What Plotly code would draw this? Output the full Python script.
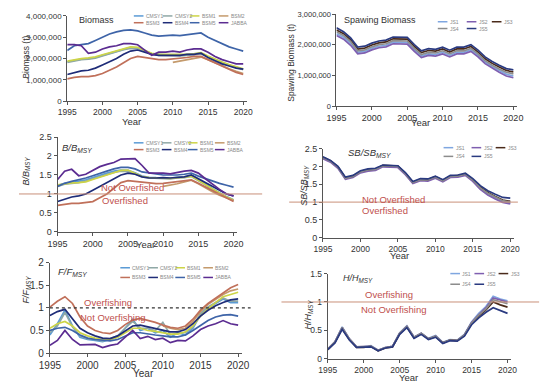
import plotly.graph_objects as go

# The page body has an 8px default margin, so the figure is drawn 8px in and
# sized so the whole page fits a 550x390 window.
SCREEN_W, SCREEN_H = 550, 390
OFF = 8
W, H = SCREEN_W - OFF, SCREEN_H - OFF

years = [1995, 1996, 1997, 1998, 1999, 2000, 2001, 2002, 2003, 2004, 2005, 2006, 2007,
         2008, 2009, 2010, 2011, 2012, 2013, 2014, 2015, 2016, 2017, 2018, 2019, 2020]
tick_years = [1995, 2000, 2005, 2010, 2015, 2020]

names8 = ["CMSY1", "CMSY2", "BSM1", "BSM2", "BSM3", "BSM4", "BSM5", "JABBA"]
colors8 = ["#5B9BD5", "#8FA8A6", "#CDD447", "#C49A6C", "#C0705A", "#1F2C78", "#3E64A8", "#5B2C91"]
names5 = ["JS1", "JS2", "JS3", "JS4", "JS5"]
colors5 = ["#7FA6E0", "#7F5FB0", "#4A2A1A", "#8C8C8C", "#2A3A80"]

N = None
# Biomass (t)
bio_cmsy1 = [1.85e6, 1.92e6, 1.97e6, 2.0e6, 2.05e6, 2.15e6, 2.25e6, 2.35e6, 2.45e6, 2.52e6, 2.5e6, 2.38e6, 2.22e6, 2.18e6, 2.17e6, 2.17e6, 2.15e6, 2.18e6, 2.2e6, 2.25e6, 2.1e6, 1.95e6, 1.82e6, 1.7e6, 1.6e6, 1.5e6]
bio_cmsy2 = [1.82e6, 1.9e6, 1.95e6, 1.97e6, 2.02e6, 2.12e6, 2.22e6, 2.32e6, 2.42e6, 2.48e6, 2.47e6, 2.35e6, 2.2e6, 2.15e6, 2.14e6, 2.14e6, 2.12e6, 2.15e6, 2.17e6, 2.22e6, 2.07e6, 1.92e6, 1.8e6, 1.68e6, 1.58e6, 1.48e6]
bio_bsm1 = [1.88e6, 1.95e6, 2.0e6, 2.03e6, 2.08e6, 2.18e6, 2.28e6, 2.38e6, 2.48e6, 2.55e6, 2.53e6, 2.4e6, 2.25e6, 2.2e6, 2.2e6, 2.2e6, 2.18e6, 2.2e6, 2.22e6, 2.28e6, 2.12e6, 1.97e6, 1.84e6, 1.72e6, 1.62e6, 1.52e6]
bio_bsm2 = [N, N, N, N, N, N, N, N, N, N, N, N, N, N, N, 1.82e6, 1.88e6, 1.95e6, 2.02e6, 2.07e6, 1.95e6, 1.8e6, 1.65e6, 1.52e6, 1.4e6, 1.3e6]
bio_bsm3 = [1.05e6, 1.12e6, 1.15e6, 1.15e6, 1.2e6, 1.3e6, 1.45e6, 1.6e6, 1.8e6, 2.0e6, 2.1e6, 2.05e6, 2.0e6, 1.95e6, 1.95e6, 1.98e6, 2.0e6, 2.05e6, 2.1e6, 2.1e6, 1.95e6, 1.8e6, 1.65e6, 1.5e6, 1.35e6, 1.25e6]
bio_bsm4 = [1.25e6, 1.35e6, 1.42e6, 1.45e6, 1.55e6, 1.7e6, 1.85e6, 2.0e6, 2.2e6, 2.35e6, 2.4e6, 2.3e6, 2.2e6, 2.15e6, 2.15e6, 2.15e6, 2.15e6, 2.2e6, 2.2e6, 2.25e6, 2.05e6, 1.9e6, 1.75e6, 1.65e6, 1.55e6, 1.5e6]
bio_bsm5 = [2.38e6, 2.6e6, 2.65e6, 2.7e6, 2.85e6, 3.0e6, 3.15e6, 3.25e6, 3.32e6, 3.35e6, 3.3e6, 3.2e6, 3.1e6, 3.05e6, 3.08e6, 3.1e6, 3.08e6, 3.12e6, 3.15e6, 3.2e6, 3.0e6, 2.85e6, 2.7e6, 2.55e6, 2.45e6, 2.35e6]
bio_jabba = [2.65e6, 2.65e6, 2.6e6, 2.25e6, 2.3e6, 2.45e6, 2.55e6, 2.6e6, 2.7e6, 2.7e6, 2.65e6, 2.4e6, 2.15e6, 2.3e6, 2.3e6, 2.35e6, 2.3e6, 2.4e6, 2.45e6, 2.45e6, 2.3e6, 2.1e6, 1.95e6, 1.85e6, 1.75e6, 1.75e6]
biomass = [bio_cmsy1, bio_cmsy2, bio_bsm1, bio_bsm2, bio_bsm3, bio_bsm4, bio_bsm5, bio_jabba]

# B/BMSY
bb_cmsy1 = [1.22, 1.28, 1.3, 1.33, 1.37, 1.43, 1.5, 1.55, 1.6, 1.63, 1.62, 1.56, 1.47, 1.44, 1.43, 1.43, 1.42, 1.44, 1.45, 1.48, 1.38, 1.26, 1.14, 1.03, 0.93, 0.85]
bb_cmsy2 = [1.2, 1.26, 1.28, 1.3, 1.34, 1.4, 1.47, 1.52, 1.57, 1.6, 1.59, 1.53, 1.45, 1.42, 1.41, 1.41, 1.4, 1.42, 1.43, 1.46, 1.36, 1.24, 1.12, 1.01, 0.91, 0.83]
bb_bsm1 = [1.24, 1.27, 1.29, 1.3, 1.32, 1.38, 1.45, 1.5, 1.56, 1.62, 1.63, 1.55, 1.46, 1.43, 1.42, 1.42, 1.41, 1.43, 1.44, 1.47, 1.37, 1.25, 1.13, 1.02, 0.92, 0.84]
bb_bsm2 = [N, N, N, N, N, N, N, N, N, N, N, N, N, N, N, 1.2, 1.23, 1.27, 1.32, 1.36, 1.27, 1.16, 1.06, 0.97, 0.9, 0.83]
bb_bsm3 = [0.7, 0.72, 0.75, 0.75, 0.77, 0.8, 0.9, 1.0, 1.15, 1.3, 1.35, 1.33, 1.3, 1.28, 1.27, 1.28, 1.3, 1.32, 1.35, 1.37, 1.28, 1.18, 1.08, 0.98, 0.88, 0.8]
bb_bsm4 = [0.8, 0.87, 0.92, 0.95, 1.0, 1.1, 1.2, 1.3, 1.4, 1.5, 1.55, 1.52, 1.45, 1.42, 1.42, 1.43, 1.42, 1.44, 1.45, 1.5, 1.4, 1.28, 1.18, 1.08, 1.0, 0.95]
bb_bsm5 = [1.2, 1.28, 1.33, 1.37, 1.42, 1.48, 1.55, 1.6, 1.66, 1.7, 1.7, 1.66, 1.58, 1.55, 1.53, 1.5, 1.5, 1.5, 1.52, 1.55, 1.47, 1.4, 1.33, 1.28, 1.23, 1.18]
bb_jabba = [1.38, 1.6, 1.65, 1.48, 1.52, 1.62, 1.72, 1.78, 1.83, 1.92, 1.93, 1.93, 1.75, 1.55, 1.55, 1.55, 1.53, 1.57, 1.6, 1.62, 1.55, 1.4, 1.25, 1.12, 1.0, 0.95]
bbmsy = [bb_cmsy1, bb_cmsy2, bb_bsm1, bb_bsm2, bb_bsm3, bb_bsm4, bb_bsm5, bb_jabba]

# F/FMSY
ff_cmsy1 = [0.4, 0.65, 0.95, 0.6, 0.35, 0.3, 0.28, 0.25, 0.3, 0.35, 0.55, 0.75, 0.5, 0.55, 0.45, 0.5, 0.35, 0.45, 0.4, 0.55, 0.85, 1.0, 1.1, 1.2, 1.12, 1.12]
ff_cmsy2 = [0.45, 0.6, 0.9, 0.58, 0.38, 0.32, 0.3, 0.27, 0.32, 0.38, 0.55, 0.7, 0.55, 0.55, 0.5, 0.68, 0.4, 0.45, 0.45, 0.58, 0.88, 1.02, 1.12, 1.22, 1.15, 1.15]
ff_bsm1 = [0.55, 0.65, 0.7, 0.6, 0.45, 0.38, 0.33, 0.3, 0.3, 0.35, 0.45, 0.55, 0.55, 0.5, 0.48, 0.45, 0.42, 0.42, 0.47, 0.6, 0.82, 0.98, 1.12, 1.25, 1.3, 1.35]
ff_bsm2 = [N, N, N, N, N, N, N, N, N, N, N, N, N, N, N, 0.6, 0.55, 0.52, 0.55, 0.7, 0.92, 1.08, 1.2, 1.3, 1.38, 1.42]
ff_bsm3 = [1.02, 1.15, 1.25, 1.1, 0.8, 0.6, 0.5, 0.45, 0.43, 0.5, 0.63, 0.73, 0.77, 0.73, 0.68, 0.62, 0.57, 0.55, 0.6, 0.75, 0.95, 1.1, 1.22, 1.33, 1.45, 1.52]
ff_bsm4 = [0.83, 0.92, 0.97, 0.75, 0.55, 0.45, 0.38, 0.33, 0.32, 0.38, 0.5, 0.6, 0.62, 0.58, 0.55, 0.5, 0.47, 0.47, 0.52, 0.65, 0.82, 0.95, 1.05, 1.12, 1.18, 1.2]
ff_bsm5 = [0.5, 0.55, 0.57, 0.5, 0.4, 0.33, 0.3, 0.28, 0.27, 0.3, 0.38, 0.45, 0.45, 0.42, 0.4, 0.38, 0.36, 0.36, 0.4, 0.5, 0.62, 0.72, 0.8, 0.84, 0.85, 0.82]
ff_jabba = [0.17, 0.28, 0.5, 0.3, 0.18, 0.18, 0.19, 0.12, 0.17, 0.2, 0.35, 0.5, 0.32, 0.37, 0.3, 0.33, 0.23, 0.28, 0.27, 0.38, 0.52, 0.6, 0.65, 0.72, 0.65, 0.62]
ffmsy = [ff_cmsy1, ff_cmsy2, ff_bsm1, ff_bsm2, ff_bsm3, ff_bsm4, ff_bsm5, ff_jabba]

# Spawning biomass (t)
sb_js1 = [2.36e6, 2.24e6, 2.04e6, 1.75e6, 1.78e6, 1.88e6, 1.95e6, 1.98e6, 2.08e6, 2.08e6, 2.07e6, 1.83e6, 1.63e6, 1.7e6, 1.68e6, 1.75e6, 1.65e6, 1.75e6, 1.75e6, 1.83e6, 1.65e6, 1.43e6, 1.28e6, 1.16e6, 1.04e6, 0.98e6]
sb_js2 = [2.3e6, 2.18e6, 1.98e6, 1.7e6, 1.73e6, 1.83e6, 1.9e6, 1.93e6, 2.03e6, 2.03e6, 2.02e6, 1.78e6, 1.58e6, 1.65e6, 1.63e6, 1.7e6, 1.6e6, 1.7e6, 1.7e6, 1.78e6, 1.6e6, 1.38e6, 1.23e6, 1.1e6, 0.98e6, 0.92e6]
sb_js3 = [2.48e6, 2.36e6, 2.16e6, 1.86e6, 1.89e6, 1.99e6, 2.06e6, 2.09e6, 2.19e6, 2.19e6, 2.18e6, 1.94e6, 1.74e6, 1.81e6, 1.79e6, 1.86e6, 1.76e6, 1.86e6, 1.86e6, 1.94e6, 1.76e6, 1.54e6, 1.39e6, 1.27e6, 1.16e6, 1.11e6]
sb_js4 = [2.42e6, 2.3e6, 2.1e6, 1.8e6, 1.83e6, 1.93e6, 2.0e6, 2.03e6, 2.13e6, 2.13e6, 2.12e6, 1.88e6, 1.68e6, 1.75e6, 1.73e6, 1.8e6, 1.7e6, 1.8e6, 1.8e6, 1.88e6, 1.7e6, 1.48e6, 1.33e6, 1.21e6, 1.1e6, 1.05e6]
sb_js5 = [2.55e6, 2.42e6, 2.22e6, 1.92e6, 1.95e6, 2.05e6, 2.12e6, 2.15e6, 2.25e6, 2.25e6, 2.24e6, 2.0e6, 1.8e6, 1.87e6, 1.85e6, 1.92e6, 1.82e6, 1.92e6, 1.92e6, 2.0e6, 1.82e6, 1.6e6, 1.45e6, 1.33e6, 1.22e6, 1.18e6]
spawning = [sb_js1, sb_js2, sb_js3, sb_js4, sb_js5]

# SB/SBMSY
ss_js1 = [2.24, 2.14, 1.97, 1.66, 1.71, 1.84, 1.89, 1.91, 2.01, 1.99, 1.99, 1.79, 1.54, 1.62, 1.61, 1.69, 1.59, 1.71, 1.72, 1.77, 1.6, 1.38, 1.22, 1.11, 1.01, 0.97]
ss_js2 = [2.22, 2.12, 1.95, 1.64, 1.69, 1.82, 1.87, 1.89, 1.99, 1.97, 1.97, 1.77, 1.52, 1.6, 1.59, 1.67, 1.57, 1.69, 1.7, 1.75, 1.58, 1.36, 1.2, 1.09, 0.99, 0.95]
ss_js3 = [2.26, 2.16, 1.99, 1.68, 1.73, 1.86, 1.91, 1.93, 2.03, 2.01, 2.01, 1.81, 1.56, 1.64, 1.63, 1.71, 1.61, 1.73, 1.74, 1.79, 1.63, 1.42, 1.27, 1.16, 1.06, 1.02]
ss_js4 = [2.25, 2.15, 1.98, 1.67, 1.72, 1.85, 1.9, 1.92, 2.02, 2.0, 2.0, 1.8, 1.55, 1.63, 1.62, 1.7, 1.6, 1.72, 1.73, 1.78, 1.62, 1.4, 1.25, 1.14, 1.04, 1.0]
ss_js5 = [2.27, 2.17, 2.0, 1.7, 1.75, 1.88, 1.93, 1.95, 2.04, 2.03, 2.02, 1.83, 1.58, 1.66, 1.65, 1.73, 1.63, 1.75, 1.76, 1.81, 1.66, 1.46, 1.32, 1.22, 1.13, 1.11]
sbmsy = [ss_js1, ss_js2, ss_js3, ss_js4, ss_js5]

# H/HMSY
hh_js1 = [0.17, 0.3, 0.56, 0.35, 0.21, 0.21, 0.23, 0.15, 0.2, 0.22, 0.46, 0.58, 0.38, 0.45, 0.36, 0.41, 0.29, 0.34, 0.33, 0.43, 0.65, 0.8, 0.92, 1.1, 1.05, 1.02]
hh_js2 = [0.17, 0.3, 0.55, 0.35, 0.21, 0.21, 0.22, 0.15, 0.2, 0.22, 0.45, 0.57, 0.38, 0.45, 0.35, 0.4, 0.28, 0.33, 0.32, 0.42, 0.64, 0.78, 0.9, 1.07, 1.03, 1.0]
hh_js3 = [0.16, 0.29, 0.53, 0.34, 0.2, 0.2, 0.22, 0.14, 0.19, 0.21, 0.44, 0.56, 0.37, 0.44, 0.35, 0.39, 0.28, 0.33, 0.32, 0.41, 0.62, 0.75, 0.86, 1.0, 0.95, 0.91]
hh_js4 = [0.17, 0.3, 0.55, 0.35, 0.21, 0.21, 0.22, 0.15, 0.2, 0.22, 0.45, 0.57, 0.38, 0.45, 0.35, 0.4, 0.28, 0.33, 0.32, 0.42, 0.63, 0.77, 0.88, 1.04, 1.0, 0.97]
hh_js5 = [0.16, 0.28, 0.52, 0.33, 0.2, 0.2, 0.21, 0.14, 0.19, 0.21, 0.43, 0.55, 0.36, 0.43, 0.34, 0.38, 0.27, 0.32, 0.31, 0.4, 0.6, 0.72, 0.82, 0.9, 0.85, 0.8]
hhmsy = [hh_js1, hh_js2, hh_js3, hh_js4, hh_js5]

FONT = "Liberation Sans, Arial, sans-serif"
RED = "#C0504D"
REFC = "#C9907A"
AX = "#555555"
TXT = "#333333"


def px(x):
    return min(max((x - OFF) / W, 0.0), 1.0)


def py(y):
    return min(max(1 - (y - OFF) / H, 0.0), 1.0)


# panel geometry in screen pixels: left, right, top, bottom
panels = [
    dict(series=biomass, names=names8, colors=colors8, l=58, r=244, t=10, b=98, yr=[0, 4e6], dt=1e6, fmt=",d", xf=8.5, yf=8),
    dict(series=spawning, names=names5, colors=colors5, l=337, r=524, t=8, b=103, yr=[0, 3e6], dt=1e6, fmt=",d", xf=9, yf=7.5),
    dict(series=bbmsy, names=names8, colors=colors8, l=48, r=234, t=135, b=233, yr=[0, 2.5], dt=0.5, fmt="", xf=9, yf=9),
    dict(series=sbmsy, names=names5, colors=colors5, l=323, r=521, t=147, b=239, yr=[0, 2.5], dt=0.5, fmt="", xf=8.5, yf=9),
    dict(series=ffmsy, names=names8, colors=colors8, l=40, r=239, t=265, b=358, yr=[0, 2], dt=0.5, fmt="", xf=10, yf=10),
    dict(series=hhmsy, names=names5, colors=colors5, l=328, r=518, t=276, b=364, yr=[0, 1.5], dt=0.5, fmt="", xf=8.5, yf=8.5),
]

fig = go.Figure()
layout = dict(width=W, height=H, margin=dict(l=0, r=0, t=0, b=0),
              paper_bgcolor="white", plot_bgcolor="white", showlegend=False,
              font=dict(family=FONT, size=10, color=TXT))
shapes = []
annos = []

for i, p in enumerate(panels):
    k = "" if i == 0 else str(i + 1)
    for s, nm, c in zip(p["series"], p["names"], p["colors"]):
        fig.add_trace(go.Scatter(x=years, y=s, name=nm, mode="lines",
                                 line=dict(color=c, width=1.7),
                                 xaxis="x" + k, yaxis="y" + k, connectgaps=False))
    layout["xaxis" + k] = dict(domain=[px(p["l"]), px(p["r"])], range=[1995, 2020.5],
                               anchor="y" + k, tickvals=tick_years, showgrid=False,
                               zeroline=False, showline=True, linecolor=AX, linewidth=1,
                               ticks="outside", ticklen=3, tickcolor=AX,
                               tickfont=dict(size=p["xf"], color=TXT))
    layout["yaxis" + k] = dict(domain=[py(p["b"]), py(p["t"])], range=p["yr"], dtick=p["dt"],
                               anchor="x" + k, tickformat=p["fmt"], showgrid=False,
                               zeroline=False, showline=True, linecolor=AX, linewidth=1,
                               ticks="outside", ticklen=3, tickcolor=AX,
                               tickfont=dict(size=p["yf"], color=TXT))


# Legends drawn as small line samples with labels
def legend(names, colors, xs, ys, ncol):
    for j, (nm, c) in enumerate(zip(names, colors)):
        x0 = xs[j % ncol]
        y0 = ys[j // ncol]
        shapes.append(dict(type="line", xref="paper", yref="paper",
                           x0=px(x0), x1=px(x0 + 10), y0=py(y0), y1=py(y0),
                           line=dict(color=c, width=1.5)))
        annos.append(dict(text=nm, xref="paper", yref="paper", x=px(x0 + 10.5), y=py(y0),
                          xanchor="left", yanchor="middle", showarrow=False,
                          font=dict(size=5, color="#888888")))


legend(names8, colors8, [127, 157, 185, 215], [10, 17], 4)
legend(names5, colors5, [442, 472, 498], [16, 23], 3)
legend(names8, colors8, [127, 156, 183, 211], [141, 148], 4)
legend(names5, colors5, [448, 477, 502], [146, 155], 3)
legend(names8, colors8, [113, 142, 170, 199], [270, 280], 4)
legend(names5, colors5, [455, 480, 505], [276, 287], 3)

# Reference lines
shapes.append(dict(type="line", xref="paper", yref="y3", x0=px(8), x1=px(260), y0=1, y1=1,
                   line=dict(color=REFC, width=1)))
shapes.append(dict(type="line", xref="paper", yref="y4", x0=px(288), x1=px(525), y0=1, y1=1,
                   line=dict(color=REFC, width=1)))
shapes.append(dict(type="line", xref="paper", yref="y5", x0=px(40), x1=px(248), y0=1, y1=1,
                   line=dict(color=TXT, width=1.2, dash="dot")))
shapes.append(dict(type="line", xref="paper", yref="y6", x0=px(280), x1=px(547), y0=1, y1=1,
                   line=dict(color=REFC, width=1)))


def txt(t, x, y, size=9.5, color=TXT, xanchor="left", angle=0, italic=False):
    annos.append(dict(text=t, xref="paper", yref="paper", x=px(x), y=py(y),
                      xanchor=xanchor, yanchor="middle", showarrow=False, textangle=angle,
                      font=dict(size=size, color=color, family=FONT,
                                style="italic" if italic else "normal")))


# panel titles
txt("Biomass", 68, 14, size=9)
txt("Spawing Biomass", 343, 14, size=9)
txt("B/B<sub>MSY</sub>", 51, 146, size=9.5, italic=True)
txt("SB/SB<sub>MSY</sub>", 347, 152, size=9.5, italic=True)
txt("F/F<sub>MSY</sub>", 46, 274, size=9.5, italic=True)
txt("H/H<sub>MSY</sub>", 342, 281, size=9, italic=True)

# status labels
txt("Not Overfished", 91, 187, color=RED)
txt("Overfished", 92, 201, color=RED)
txt("Not Overfished", 361, 199, color=RED)
txt("Overfished", 361, 211, color=RED)
txt("Overfishing", 73, 306, color=RED)
txt("Not Overfishing", 69, 321, color=RED)
txt("Overfishing", 365, 298, color=RED)
txt("Not Overfishing", 360, 313, color=RED)

# axis titles
txt("Year", 125, 119, size=9.5, xanchor="center")
txt("Year", 424, 120, size=9.5, xanchor="center")
txt("Year", 139, 246, size=9.5, xanchor="center")
txt("Year", 402, 257, size=9.5, xanchor="center")
txt("Year", 137, 379, size=10, xanchor="center")
txt("Year", 412, 383, size=9.5, xanchor="center")
txt("Biomass (t)", 8, 53, size=8.5, angle=-90)
txt("Spawing Biomass (t)", 283, 58, size=8.5, angle=-90)
txt("B/B<sub>MSY</sub>", 8, 170, size=9, angle=-90, italic=True)
txt("SB/SB<sub>MSY</sub>", 296, 185, size=9, angle=-90, italic=True)
txt("F/F<sub>MSY</sub>", 8, 293, size=9, angle=-90, italic=True)
txt("H/H<sub>MSY</sub>", 300, 318, size=9, angle=-90, italic=True)

layout["shapes"] = shapes
layout["annotations"] = annos
fig.update_layout(**layout)
fig.write_html("out.html")
